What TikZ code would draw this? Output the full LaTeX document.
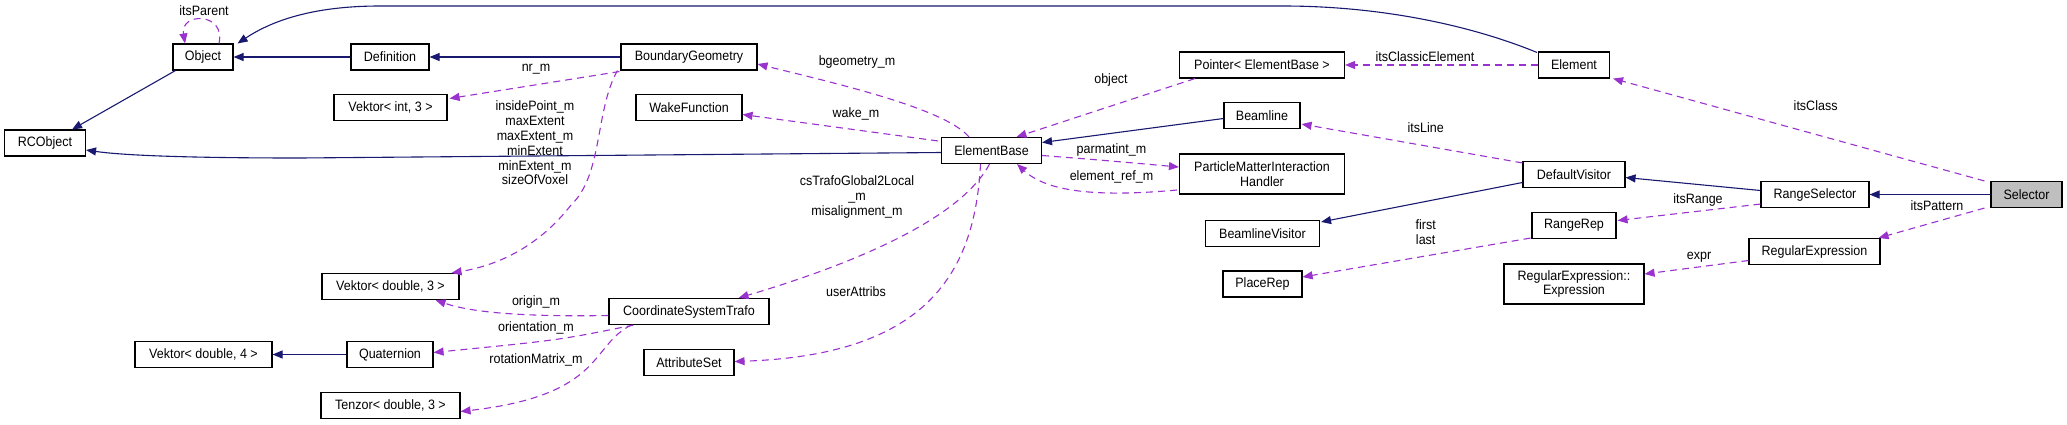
\documentclass[tikz,border=0pt]{standalone}
\usepackage{fontspec}
\setmainfont{Liberation Sans}[FakeStretch=0.92]
\usetikzlibrary{arrows.meta,calc}
\definecolor{inhc}{HTML}{191970}
\definecolor{usec}{HTML}{9A32CD}
\definecolor{selc}{HTML}{BFBFBF}
\tikzset{
  box/.style={draw=black, line width=1.1pt, fill=white, inner sep=0pt, align=center,
    font=\fontsize{13.6}{14.8}\selectfont},
  lbl/.style={inner sep=0pt, align=center, font=\fontsize{13.6}{14.8}\selectfont},
  inh/.style={draw=inhc, line width=1.1pt, -{Triangle[length=10pt,width=8pt]}},
  usee/.style={draw=usec, line width=1.1pt, dash pattern=on 7pt off 5pt,
    -{Triangle[length=10pt,width=8pt,fill=usec]}},
}
\begin{document}
\begin{tikzpicture}[x=1pt,y=-1pt]
\useasboundingbox (0,0) rectangle (2067,424);
% nodes
\node[box, minimum width=60pt, minimum height=26pt] (Object) at (203,57) {Object};
\node[box, minimum width=78pt, minimum height=26pt] (Definition) at (390,57) {Definition};
\node[box, minimum width=136pt, minimum height=26pt] (BG) at (689,57) {BoundaryGeometry};
\node[box, minimum width=113pt, minimum height=26pt] (V3i) at (390.5,107.5) {Vektor< int, 3 >};
\node[box, minimum width=81pt, minimum height=26pt] (RCObject) at (45,143) {RCObject};
\node[box, minimum width=106pt, minimum height=26pt] (Wake) at (689,107.5) {WakeFunction};
\node[box, minimum width=100pt, minimum height=26pt] (EB) at (991.5,150.5) {ElementBase};
\node[box, minimum width=165pt, minimum height=26pt] (Pointer) at (1262,65) {Pointer< ElementBase >};
\node[box, minimum width=76pt, minimum height=26pt] (Beamline) at (1262,115.5) {Beamline};
\node[box, minimum width=165pt, minimum height=40pt] (PMIH) at (1262,174) {ParticleMatterInteraction\\Handler};
\node[box, minimum width=137pt, minimum height=26pt] (V3d) at (390.5,286.5) {Vektor< double, 3 >};
\node[box, minimum width=160pt, minimum height=26pt] (CST) at (689,311.5) {CoordinateSystemTrafo};
\node[box, minimum width=90pt, minimum height=26pt] (Attr) at (689,362.5) {AttributeSet};
\node[box, minimum width=137pt, minimum height=26pt] (V4d) at (203.5,354.5) {Vektor< double, 4 >};
\node[box, minimum width=86pt, minimum height=26pt] (Quat) at (390,354.5) {Quaternion};
\node[box, minimum width=139pt, minimum height=26pt] (Tenzor) at (390.5,405.5) {Tenzor< double, 3 >};
\node[box, minimum width=71pt, minimum height=26pt] (Element) at (1574,65) {Element};
\node[box, minimum width=102pt, minimum height=26pt] (DV) at (1574,174.5) {DefaultVisitor};
\node[box, minimum width=114pt, minimum height=26pt] (BLV) at (1262.5,233.5) {BeamlineVisitor};
\node[box, minimum width=84pt, minimum height=26pt] (RangeRep) at (1574,225.5) {RangeRep};
\node[box, minimum width=79pt, minimum height=26pt] (PlaceRep) at (1262.5,284) {PlaceRep};
\node[box, minimum width=108pt, minimum height=26pt] (RS) at (1815,194.5) {RangeSelector};
\node[box, minimum width=71pt, minimum height=26pt, fill=selc] (Selector) at (2026.5,194.5) {Selector};
\node[box, minimum width=131pt, minimum height=26pt] (RE) at (1814.5,251.5) {RegularExpression};
\node[box, minimum width=140pt, minimum height=40pt] (REE) at (1574,284) {RegularExpression::\\Expression};
% inheritance
\draw[inh] (Definition.west) -- (Object.east);
\draw[inh] (BG.west) -- (Definition.east);
\draw[inh] ($(Object.south west)+(3,0)$) -- ($(RCObject.north east)+(-14,0)$);
\draw[inh] ($(Element.north west)+(-1,1)$) .. controls (1470,25) and (1380,6) .. (1283,6)
  -- (380,6) .. controls (310,6) and (270,22) .. ($(Object.north east)+(4,0)$);
\draw[inh] ($(EB.west)+(0,2)$) -- (300,158) .. controls (180,158) and (120,155) .. ($(RCObject.east)+(0,7)$);
\draw[inh] ($(Beamline.west)+(0,3)$) -- ($(EB.east)+(0,-8)$);
\draw[inh] (Quat.west) -- (V4d.east);
\draw[inh] ($(RS.west)+(0,-4)$) -- ($(DV.east)+(0,3)$);
\draw[inh] ($(DV.west)+(0,8)$) -- ($(BLV.north east)+(1,2)$);
\draw[inh] (Selector.west) -- (RS.east);
% usage
\draw[usee] ($(Object.north)+(16,0)$) .. controls (226,12) and (180,12) .. ($(Object.north)+(-18,0)$);
\draw[usee] ($(BG.south west)+(-1,1)$) -- ($(V3i.east)+(2,-9)$);
\draw[usee] ($(BG.south west)+(-3,0)$) .. controls (595,110) and (603,175) .. (571,205)
  .. controls (540,245) and (500,265) .. ($(V3d.north east)+(-8,0)$);
\draw[usee] ($(EB.north west)+(28,0)$) .. controls (945,108) and (830,82) .. ($(BG.east)+(0,7)$);
\draw[usee] ($(EB.north west)+(-3,4)$) -- ($(Wake.east)+(0,7)$);
\draw[usee] ($(Pointer.south west)+(16,0)$) -- ($(EB.north)+(25,0)$);
\draw[usee] ($(EB.east)+(0,5)$) .. controls (1100,160) .. ($(PMIH.west)+(0,-7)$);
\draw[usee] ($(PMIH.west)+(-2,16)$) .. controls (1090,198) and (1045,190) .. ($(EB.south east)+(-25,0)$);
\draw[usee] ($(EB.south)+(-2,0)$) .. controls (960,220) and (850,265) .. ($(CST.north east)+(-31,0)$);
\draw[usee] ($(EB.south)+(-11,0)$) .. controls (975,270) and (930,355) .. ($(Attr.east)+(0,-1)$);
\draw[usee] ($(CST.west)+(0,4)$) .. controls (520,317) and (470,312) .. ($(V3d.south east)+(-24,0)$);
\draw[usee] ($(CST.south west)+(25,0)$) .. controls (560,340) .. ($(Quat.east)+(0,-2)$);
\draw[usee] ($(CST.south west)+(23,0)$) .. controls (590,345) and (605,395) .. ($(Tenzor.east)+(0,6)$);
\draw[usee] (Element.west) -- (Pointer.east);
\draw[usee] ($(Selector.north west)+(-6,0)$) -- ($(Element.south east)+(3,0)$);
\draw[usee] ($(DV.north west)+(0,2)$) -- ($(Beamline.south east)+(1,-5)$);
\draw[usee] ($(RS.south west)+(0,-4)$) -- ($(RangeRep.east)+(1,-5)$);
\draw[usee] ($(RangeRep.south west)+(-1,-1)$) -- ($(PlaceRep.east)+(0,-7)$);
\draw[usee] ($(Selector.south west)+(-6,0)$) -- ($(RE.north east)+(-2,0)$);
\draw[usee] ($(RE.west)+(0,9)$) -- ($(REE.east)+(0,-10)$);
% labels
\node[lbl] (l1) at (204,11) {itsParent};
\node[lbl] (l2) at (536,69) {nr\_m};
\node[lbl] (l3) at (535,143) {insidePoint\_m\\maxExtent\\maxExtent\_m\\minExtent\\minExtent\_m\\sizeOfVoxel};
\node[lbl] (l4) at (857,62) {bgeometry\_m};
\node[lbl] (l5) at (856,114) {wake\_m};
\node[lbl] (l6) at (1111,80) {object};
\node[lbl] (l7) at (1111.5,150) {parmatint\_m};
\node[lbl] (l8) at (1111.5,177) {element\_ref\_m};
\node[lbl] (l9) at (857,197) {csTrafoGlobal2Local\\\_m\\misalignment\_m};
\node[lbl] (l10) at (856,292) {userAttribs};
\node[lbl] (l11) at (536,302) {origin\_m};
\node[lbl] (l12) at (536,328) {orientation\_m};
\node[lbl] (l13) at (536,360) {rotationMatrix\_m};
\node[lbl] (l14) at (1425,57) {itsClassicElement};
\node[lbl] (l15) at (1815.6,106) {itsClass};
\node[lbl] (l16) at (1425.7,128) {itsLine};
\node[lbl] (l17) at (1698,200) {itsRange};
\node[lbl] (l18) at (1937,206) {itsPattern};
\node[lbl] (l19) at (1425.7,232) {first\\last};
\node[lbl] (l20) at (1699,257) {expr};
\end{tikzpicture}
\end{document}
